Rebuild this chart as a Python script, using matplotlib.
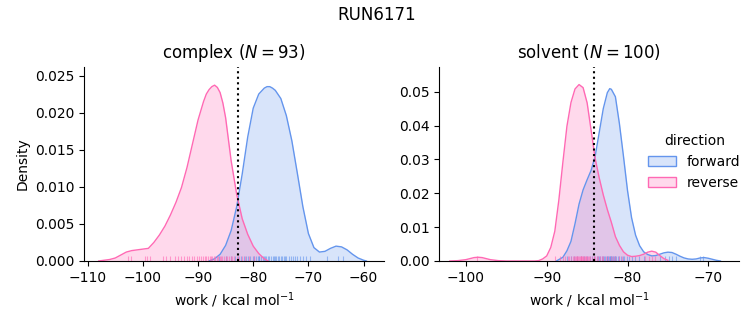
import matplotlib
matplotlib.use("Agg")
import matplotlib.pyplot as plt
from matplotlib.patches import Patch

# ---------------- data ----------------
suptitle = "RUN6171"
phases = ["complex", "solvent"]
n_samples = [93, 100]
directions = ["forward", "reverse"]
colors = {"forward": "cornflowerblue", "reverse": "hotpink"}
vlines = [-82.8, -84.15]

# KDE curves, complex phase
cx_fwd = [-88, -87, -86, -85, -84, -83, -82, -81, -80, -79, -78, -77.5, -77, -76.5,
          -76, -75, -74, -73, -72, -71, -70, -69, -68, -67, -66, -65, -64, -63,
          -62, -61, -60, -59.5]
cy_fwd = [0.0, 0.0003, 0.0009, 0.0021, 0.0041, 0.0073, 0.0117, 0.0167, 0.0206,
          0.0225, 0.0233, 0.0235, 0.0235, 0.0233, 0.0230, 0.0219, 0.0196, 0.0162,
          0.0118, 0.0073, 0.0037, 0.0018, 0.0012, 0.0013, 0.0017, 0.0020, 0.0019,
          0.0015, 0.0009, 0.0004, 0.0001, 0.0]
cx_rev = [-108, -107, -106, -105, -104, -103, -102, -101, -100, -99, -98, -97,
          -96, -95, -94, -93, -92, -91, -90, -89, -88.5, -88, -87.5, -87, -86.5,
          -86, -85.5, -85, -84, -83, -82, -81, -80, -79, -78, -77.3]
cy_rev = [0.0, 0.0001, 0.0002, 0.0004, 0.0008, 0.0012, 0.0014, 0.0015, 0.0016,
          0.0017, 0.0025, 0.0035, 0.0047, 0.0062, 0.0079, 0.0099, 0.0126, 0.0158,
          0.0190, 0.0215, 0.0225, 0.0231, 0.0235, 0.0237, 0.0234, 0.0227, 0.0213,
          0.0193, 0.0135, 0.0090, 0.0057, 0.0036, 0.0020, 0.0010, 0.0003, 0.0]

# KDE curves, solvent phase
sx_fwd = [-88.8, -88, -87.5, -87, -86.5, -86, -85.5, -85, -84.5, -84, -83.5, -83,
          -82.5, -82.2, -82, -81.5, -81, -80.5, -80, -79.5, -79, -78.5, -78, -77.5,
          -77, -76.5, -76, -75.5, -75, -74.5, -74, -73.5, -73, -72.5, -72, -71.5,
          -71, -70.5, -70, -69.5, -69, -68.5]
sy_fwd = [0.0, 0.0011, 0.0030, 0.0058, 0.0110, 0.0168, 0.0210, 0.0240, 0.0268,
          0.0310, 0.0380, 0.0450, 0.0497, 0.0509, 0.0507, 0.0485, 0.0405, 0.0309,
          0.0208, 0.0128, 0.0076, 0.0045, 0.0027, 0.0019, 0.0015, 0.0016, 0.0020,
          0.0024, 0.0026, 0.0025, 0.0020, 0.0014, 0.0009, 0.0006, 0.0005, 0.0006,
          0.0009, 0.0010, 0.0008, 0.0005, 0.0002, 0.0]
sx_rev = [-102, -101, -100, -99.5, -99, -98.5, -98, -97.5, -97, -96, -95, -93,
          -91.5, -91, -90.5, -90, -89.5, -89, -88.5, -88, -87.5, -87, -86.5, -86,
          -85.5, -85, -84.5, -84, -83.5, -83, -82.5, -82, -81.5, -81, -80.5, -80,
          -79.5, -79, -78.5, -78, -77.5, -77, -76.5, -76, -75.5, -75]
sy_rev = [0.0, 0.0001, 0.0004, 0.0007, 0.0010, 0.0011, 0.0010, 0.0007, 0.0004,
          0.0001, 0.0, 0.0, 0.0000, 0.0001, 0.0006, 0.0015, 0.0040, 0.0088, 0.0180,
          0.0292, 0.0398, 0.0468, 0.0508, 0.0521, 0.0512, 0.0467, 0.0385, 0.0302,
          0.0245, 0.0195, 0.0152, 0.0114, 0.0072, 0.0046, 0.0027, 0.0017, 0.0013,
          0.0014, 0.0016, 0.0020, 0.0026, 0.0029, 0.0026, 0.0016, 0.0007, 0.0002]

# individual work values (rug)
rug_c_fwd = [-86.2, -84.9, -84.0, -83.3, -82.7, -82.2, -81.7, -81.3, -80.9, -80.5,
             -80.1, -79.8, -79.5, -79.2, -79.0, -78.9, -78.6, -78.3, -78.0, -77.9,
             -77.7, -77.4, -77.1, -76.8, -76.5, -76.2, -76.0, -75.9, -75.6, -75.3,
             -75.0, -74.7, -74.5, -74.3, -74.0, -73.6, -73.2, -72.8, -72.4, -72.0,
             -71.5, -71.0, -70.5, -69.8, -66.7, -64.6, -63.7]
rug_c_rev = [-102.6, -102.1, -99.6, -99.2, -98.7, -96.3, -95.8, -95.0, -94.2,
             -93.6, -93.0, -92.5, -92.0, -91.6, -91.1, -90.7, -90.2, -89.8, -89.5,
             -89.1, -88.8, -88.5, -88.2, -87.9, -87.6, -87.4, -87.1, -86.9, -86.6,
             -86.4, -86.1, -85.9, -85.6, -85.3, -85.0, -84.7, -84.4, -84.1, -83.8,
             -83.4, -83.0, -82.6, -82.1, -81.5, -80.8, -79.9]
rug_s_fwd = [-87.5, -87.0, -86.6, -86.2, -85.8, -85.4, -85.0, -84.7, -84.4, -84.1,
             -83.8, -83.6, -83.5, -83.4, -83.2, -83.0, -82.9, -82.8, -82.6, -82.5,
             -82.4, -82.3, -82.2, -82.15, -82.1, -82.0, -81.9, -81.8, -81.7, -81.6,
             -81.5, -81.4, -81.2, -81.0, -80.8, -80.6, -80.4, -80.1, -79.8, -79.5,
             -79.1, -78.6, -78.0, -76.0, -75.4, -74.9, -74.5, -74.0, -71.0, -70.6]
rug_s_rev = [-98.6, -89.0, -88.4, -88.0, -87.7, -87.4, -87.2, -87.0, -86.8, -86.6,
             -86.5, -86.4, -86.3, -86.2, -86.1, -86.0, -85.9, -85.8, -85.75, -85.7,
             -85.6, -85.5, -85.45, -85.4, -85.3, -85.2, -85.1, -85.0, -84.9, -84.8,
             -84.6, -84.4, -84.2, -84.0, -83.8, -83.6, -83.4, -83.2, -83.0, -82.7,
             -82.4, -82.1, -81.8, -81.5, -81.1, -80.7, -77.8, -77.4, -77.0, -76.6]

xlims = [(-110.6, -56.3), (-103.3, -66.2)]
ylims = [(0, 0.0262), (0, 0.0574)]

curves = [
    {"forward": (cx_fwd, cy_fwd), "reverse": (cx_rev, cy_rev)},
    {"forward": (sx_fwd, sy_fwd), "reverse": (sx_rev, sy_rev)},
]
rugs = [
    {"forward": rug_c_fwd, "reverse": rug_c_rev},
    {"forward": rug_s_fwd, "reverse": rug_s_rev},
]

# ---------------- figure ----------------
fig = plt.figure(figsize=(7.53, 3.25), dpi=100)
ax_pos = [[0.112, 0.197, 0.398, 0.598], [0.5834, 0.197, 0.398, 0.598]]
axes = [fig.add_axes(p) for p in ax_pos]

for i, ax in enumerate(axes):
    for d in directions:
        xs, ys = curves[i][d]
        ax.fill_between(xs, ys, 0, color=colors[d], alpha=0.25, lw=0)
        ax.plot(xs, ys, color=colors[d], lw=1)
        ax.vlines(rugs[i][d], 0, 0.025, transform=ax.get_xaxis_transform(),
                  color=colors[d], lw=0.8, alpha=0.6)
    ax.axvline(vlines[i], color="black", ls=":", lw=1.5)
    ax.set_xlim(*xlims[i])
    ax.set_ylim(*ylims[i])
    ax.set_title(f"{phases[i]} ($N = {n_samples[i]}$)", fontsize=12)
    ax.set_xlabel("work / kcal mol$^{-1}$")
    ax.spines["top"].set_visible(False)
    ax.spines["right"].set_visible(False)

axes[0].set_ylabel("Density")

handles = [Patch(facecolor=matplotlib.colors.to_rgba(colors[d], 0.25),
                 edgecolor=colors[d], lw=1) for d in directions]
axes[1].legend(handles, directions, title="direction", frameon=False,
               loc="center left", bbox_to_anchor=(0.655, 0.51))

fig.suptitle(suptitle, fontsize=12)
fig.savefig("out.png", dpi=100)
